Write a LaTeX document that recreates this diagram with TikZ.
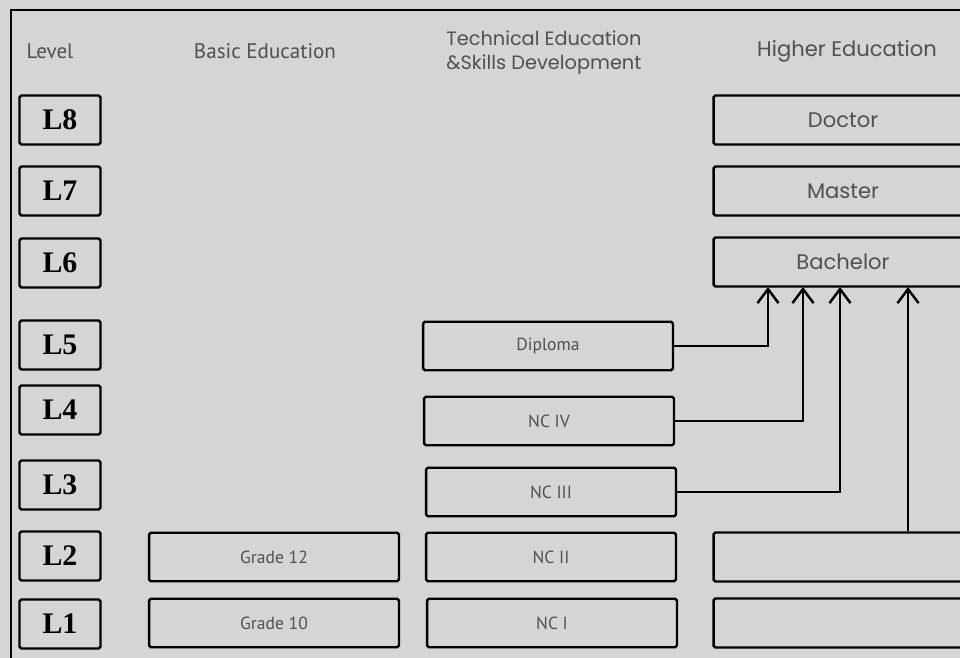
\documentclass[tikz,border=0pt]{standalone}
\usepackage{fontspec}
\setmainfont{Liberation Serif}
\newfontfamily\geofont{Poppins}
\newfontfamily\narrowfont{PT Sans}
\usetikzlibrary{arrows.meta}
\definecolor{bggray}{HTML}{D4D5D7}
\definecolor{txtgray}{HTML}{505050}

\begin{document}
\begin{tikzpicture}[x=0.02cm, y=-0.02cm,
    lvl/.style={draw, line width=1.4pt, rounded corners=1pt, minimum width=1.62cm, minimum height=0.98cm, inner sep=0pt, font=\fontsize{17}{17}\selectfont\bfseries},
    grade/.style={draw, line width=1.4pt, rounded corners=1pt, minimum width=5cm, minimum height=0.97cm, inner sep=0pt, text=txtgray, font=\narrowfont\fontsize{10}{10}\selectfont},
    degree/.style={draw, line width=1.4pt, rounded corners=1pt, minimum width=5.18cm, minimum height=0.98cm, inner sep=0pt, text=txtgray, font=\geofont\fontsize{12}{12}\selectfont},
    head/.style={text=txtgray, inner sep=0pt},
    link/.style={line width=1.4pt, -{Straight Barb[length=8pt, width=12pt, line width=1.4pt]}}]
    % Background and frame
    \clip (0,0) rectangle (960,658);
    \fill[bggray] (0,0) rectangle (960,658);
    \draw[line width=0.7pt] (11,10) rectangle (1000,700);

    % Column heads
    \node[head, font=\narrowfont\fontsize{12}{12}\selectfont] (hlevel) at (50,51) {Level};
    \node[head, font=\narrowfont\fontsize{12}{12}\selectfont] (hbasic) at (265,51) {Basic Education};
    \node[head, anchor=west, align=left, font=\geofont\fontsize{11}{13.6}\selectfont] (htech) at (446,53) {Technical Education\\\&Skills Development};
    \node[head, font=\geofont\fontsize{12}{12}\selectfont] (hhigh) at (847,51) {Higher Education};

    % Levels
    \node[lvl] (l8) at (60,120) {L8};
    \node[lvl] (l7) at (60,191) {L7};
    \node[lvl] (l6) at (60,263) {L6};
    \node[lvl] (l5) at (60,345) {L5};
    \node[lvl] (l4) at (60,410) {L4};
    \node[lvl] (l3) at (60,485) {L3};
    \node[lvl] (l2) at (60,556) {L2};
    \node[lvl] (l1) at (60,624) {L1};

    % Basic education
    \node[grade] (g12) at (274,557) {Grade 12};
    \node[grade] (g10) at (274,623) {Grade 10};

    % Technical education
    \node[grade] (dip) at (548,346) {Diploma};
    \node[grade] (nc4) at (549,421) {NC IV};
    \node[grade] (nc3) at (551,492) {NC III};
    \node[grade] (nc2) at (551,557) {NC II};
    \node[grade] (nc1) at (552,623) {NC I};

    % Higher education
    \node[degree] (doc) at (843,120) {Doctor};
    \node[degree] (mas) at (843,191) {Master};
    \node[degree] (bac) at (843,262) {Bachelor};
    \node[degree] (he2) at (843,557) {};
    \node[degree] (he1) at (843,623) {};

    % Entry points into the bachelor
    \coordinate (in1) at (768,287);
    \coordinate (in2) at (803,287);
    \coordinate (in3) at (840,287);
    \coordinate (in4) at (908,287);

    % Connectors
    \draw[link] (dip.east) -| (in1);
    \draw[link] (nc4.east) -| (in2);
    \draw[link] (nc3.east) -| (in3);
    \draw[link] (he2.north -| in4) -- (in4);
\end{tikzpicture}
\end{document}
